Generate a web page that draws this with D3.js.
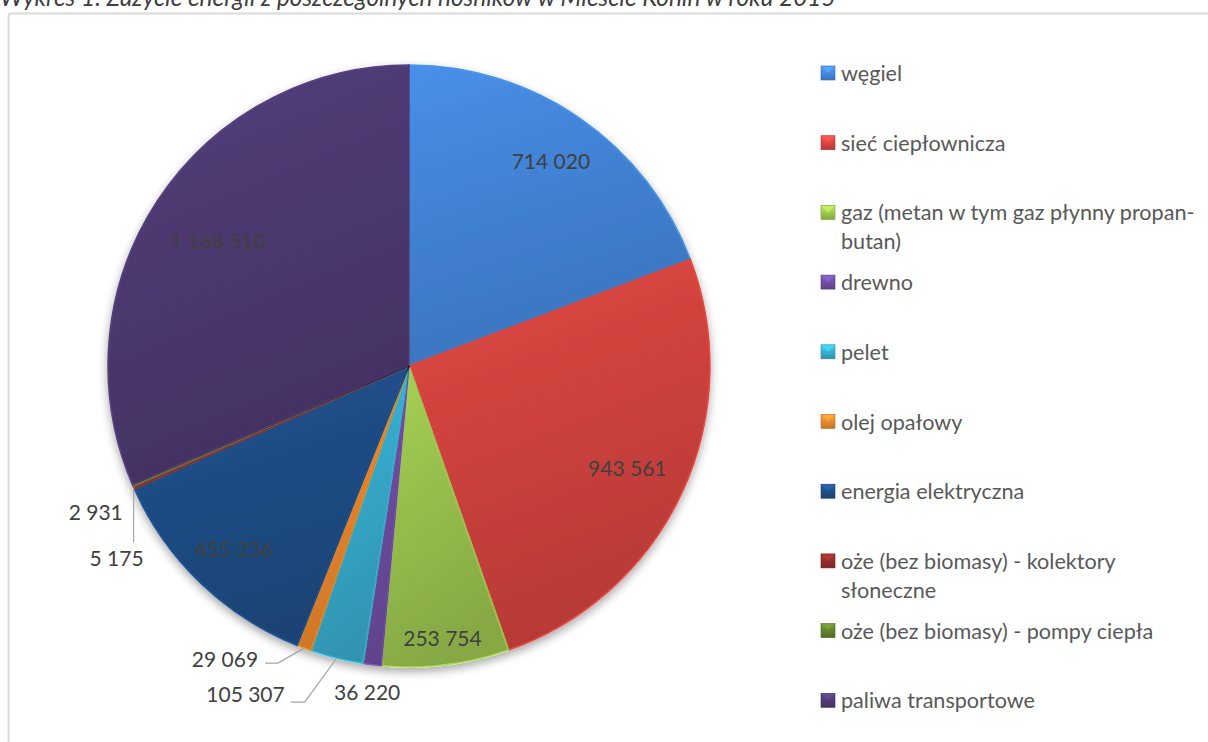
<!DOCTYPE html>
<html>
<head>
<meta charset="utf-8">
<script src="https://cdn.jsdelivr.net/npm/d3@7"></script>
<style>
    html, body { margin: 0; padding: 0; background: #ffffff; overflow: hidden; }
    svg { display: block; font-family: Lato, "Open Sans", sans-serif; }
</style>
</head>
<body>
<svg id="chart" width="1208" height="742"></svg>
<script>
// Dane wykresu
const title = 'Wykres 1. Zużycie energii z poszczególnych nośników w Mieście Konin w roku 2015';

const categories = [
    'węgiel',
    'sieć ciepłownicza',
    'gaz (metan w tym gaz płynny propan-butan)',
    'drewno',
    'pelet',
    'olej opałowy',
    'energia elektryczna',
    'oże (bez biomasy) - kolektory słoneczne',
    'oże (bez biomasy) - pompy ciepła',
    'paliwa transportowe'
];

const values = [714020, 943561, 253754, 36220, 105307, 29069, 455236, 5175, 2931, 1168510];

const colors = ['#4283d6', '#cf423d', '#98bf4d', '#6c4c9e', '#36a8c9', '#e8852c', '#1f4c84', '#8c2c2a', '#5e7d2c', '#4d3970'];

// Układ etykiet (tylko pozycjonowanie)
const layout = {
    cx: 409, cy: 366, r: 301,
    insideRadius: [0.83, 0.8, 0.91, 0, 0, 0, 0.84, 0, 0, 0.76],
    // przesunięcia etykiet zewnętrznych względem punktu na obwodzie
    outside: {
        3: { dx: -5, dy: 27, anchor: 'middle', leader: null },
        4: { dx: -52, dy: 35, anchor: 'end', leader: [[-32, 44], [-46, 44]] },
        5: { dx: -46, dy: 10, anchor: 'end', leader: [[-26, 15], [-39, 15]] },
        7: { dx: -17, dy: 70, anchor: 'middle', leader: [[0, 55]] },
        8: { dx: -10, dy: 26, anchor: 'end', leader: null }
    },
    labelSize: 21,
    legend: { x: 821, y: 73, step: 69.7, lineHeight: 29, textX: 841, maxWidth: 366, fontSize: 21.6 }
};

const fmt = d3.formatLocale({ decimal: ',', thousands: ' ', grouping: [3], currency: ['', ''] }).format(',');

const svg = d3.select('#chart');
const defs = svg.append('defs');

// Gradienty dla wycinków
colors.forEach((color, i) => {
    const gradient = defs.append('linearGradient')
        .attr('id', `grad-${i}`)
        .attr('x1', 0).attr('y1', 0).attr('x2', 0.3).attr('y2', 1);
    gradient.append('stop').attr('offset', '0%').attr('stop-color', d3.rgb(color).brighter(0.25));
    gradient.append('stop').attr('offset', '100%').attr('stop-color', d3.rgb(color).darker(0.35));

    const lg = defs.append('linearGradient')
        .attr('id', `lgrad-${i}`)
        .attr('x1', 0).attr('y1', 0).attr('x2', 0).attr('y2', 1);
    lg.append('stop').attr('offset', '0%').attr('stop-color', d3.rgb(color).brighter(0.6));
    lg.append('stop').attr('offset', '100%').attr('stop-color', d3.rgb(color).darker(0.4));
});

const shadow = defs.append('filter')
    .attr('id', 'shadow')
    .attr('x', '-20%').attr('y', '-20%').attr('width', '140%').attr('height', '140%');
shadow.append('feDropShadow')
    .attr('dx', 0).attr('dy', 4)
    .attr('stdDeviation', 5)
    .attr('flood-color', '#000')
    .attr('flood-opacity', 0.35);

// Ramka wykresu
svg.append('rect')
    .attr('x', 8.5).attr('y', 13.5)
    .attr('width', 1230).attr('height', 760)
    .attr('rx', 3)
    .attr('fill', 'none')
    .attr('stroke', '#d9d9d9')
    .attr('stroke-width', 2);

// Tytuł (ucięty u góry, jak w oryginale)
const titleText = svg.append('text')
    .attr('x', 0).attr('y', 6)
    .attr('font-style', 'italic')
    .attr('font-size', 20)
    .attr('fill', '#404040')
    .text(title);
const tw = titleText.node().getComputedTextLength();
titleText.attr('font-size', 20 * 836 / tw);

// Wykres kołowy
const pie = d3.pie().sort(null).value(d => d.value);
const data = categories.map((c, i) => ({ name: c, value: values[i], i }));
const arcs = pie(data);

const arc = d3.arc().innerRadius(0).outerRadius(layout.r);

const g = svg.append('g')
    .attr('transform', `translate(${layout.cx},${layout.cy})`);

g.append('g')
    .attr('filter', 'url(#shadow)')
    .selectAll('path')
    .data(arcs)
    .enter().append('path')
    .attr('d', arc)
    .attr('fill', d => `url(#grad-${d.data.i})`)
    .attr('stroke', d => d3.rgb(colors[d.data.i]).brighter(0.7))
    .attr('stroke-width', 1.5)
    .attr('stroke-linejoin', 'round');

// cienka ciemna linia podziału
g.append('g')
    .selectAll('path')
    .data(arcs)
    .enter().append('path')
    .attr('d', arc)
    .attr('fill', 'none')
    .attr('stroke', 'rgba(0,0,0,0.25)')
    .attr('stroke-width', 0.6);

// Etykiety danych
function pointAt(angle, radius) {
    return [Math.sin(angle) * radius, -Math.cos(angle) * radius];
}

arcs.forEach(d => {
    const i = d.data.i;
    const mid = (d.startAngle + d.endAngle) / 2;
    const rf = layout.insideRadius[i];
    if (rf > 0) {
        const [x, y] = pointAt(mid, layout.r * rf);
        g.append('text')
            .attr('x', x).attr('y', y)
            .attr('text-anchor', 'middle')
            .attr('dominant-baseline', 'central')
            .attr('font-size', layout.labelSize)
            .attr('fill', '#404040')
            .text(fmt(d.data.value));
    } else {
        const o = layout.outside[i];
        const [px, py] = pointAt(mid, layout.r);
        if (o.leader) {
            const pts = [[px, py]].concat(o.leader.map(p => [px + p[0], py + p[1]]));
            g.append('path')
                .attr('d', d3.line()(pts))
                .attr('fill', 'none')
                .attr('stroke', '#a6a6a6')
                .attr('stroke-width', 1.2);
        }
        g.append('text')
            .attr('x', px + o.dx).attr('y', py + o.dy)
            .attr('text-anchor', o.anchor)
            .attr('dominant-baseline', 'central')
            .attr('font-size', layout.labelSize)
            .attr('fill', '#404040')
            .text(fmt(d.data.value));
    }
});

// Legenda
const L = layout.legend;
const legend = svg.append('g').attr('class', 'legend');

categories.forEach((name, i) => {
    const y = L.y + i * L.step;
    legend.append('rect')
        .attr('x', L.x).attr('y', y - 7)
        .attr('width', 14).attr('height', 14)
        .attr('fill', `url(#lgrad-${i})`)
        .attr('stroke', d3.rgb(colors[i]).darker(0.6))
        .attr('stroke-width', 0.6);
    legend.append('path')
        .attr('d', `M${L.x + 1},${y - 6}L${L.x + 7},${y}L${L.x + 13},${y - 6}Z`)
        .attr('fill', d3.rgb(colors[i]).brighter(0.9))
        .attr('opacity', 0.6);

    const text = legend.append('text')
        .attr('x', L.textX).attr('y', y)
        .attr('dominant-baseline', 'central')
        .attr('font-size', L.fontSize)
        .attr('fill', '#595959');

    // zawijanie tekstu (również po myślniku w wyrazie)
    const words = [];
    name.split(' ').forEach(w => {
        const m = w.match(/^(.+-)(.+)$/);
        if (m) { words.push({ t: m[1], sp: false }); words.push({ t: m[2], sp: true }); }
        else words.push({ t: w, sp: true });
    });
    let line = '';
    let tspan = text.append('tspan').attr('x', L.textX).attr('dy', 0);
    words.forEach((w, k) => {
        const sep = (k === 0) ? '' : (words[k - 1].sp ? ' ' : '');
        const attempt = line + sep + w.t;
        tspan.text(attempt);
        if (tspan.node().getComputedTextLength() > L.maxWidth && line !== '') {
            tspan.text(line);
            line = w.t;
            tspan = text.append('tspan').attr('x', L.textX).attr('dy', L.lineHeight).text(line);
        } else {
            line = attempt;
        }
    });
});
</script>
</body>
</html>
